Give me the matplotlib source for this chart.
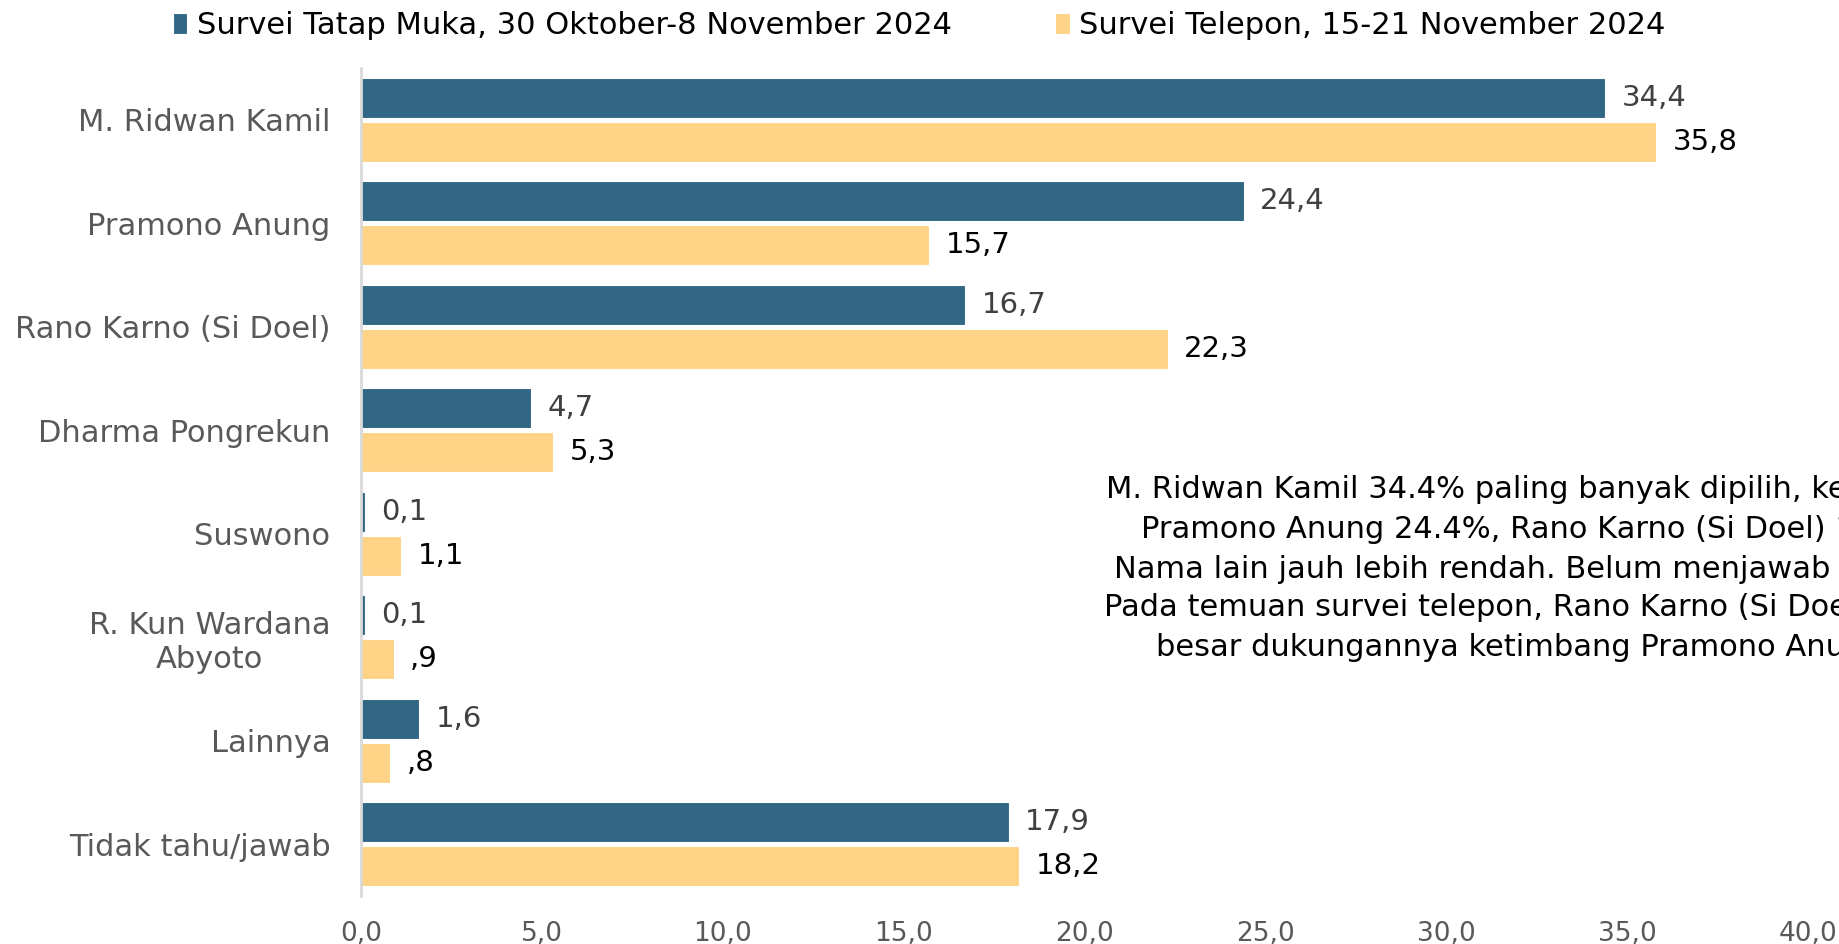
import matplotlib
matplotlib.use("Agg")
import matplotlib.pyplot as plt
import numpy as np

plt.rcParams['font.family'] = ['DejaVu Sans']

categories = ["M. Ridwan Kamil", "Pramono Anung", "Rano Karno (Si Doel)",
              "Dharma Pongrekun", "Suswono", "R. Kun Wardana\nAbyoto",
              "Lainnya", "Tidak tahu/jawab"]
series_names = ["Survei Tatap Muka, 30 Oktober-8 November 2024",
                "Survei Telepon, 15-21 November 2024"]
tatap_muka = [34.4, 24.4, 16.7, 4.7, 0.1, 0.1, 1.6, 17.9]
telepon = [35.8, 15.7, 22.3, 5.3, 1.1, 0.9, 0.8, 18.2]
x_ticks = [0, 5, 10, 15, 20, 25, 30, 35, 40]
note_lines = [
    "M. Ridwan Kamil 34.4% paling banyak dipilih, kemudian",
    "Pramono Anung 24.4%, Rano Karno (Si Doel) 16.7%.",
    "Nama lain jauh lebih rendah. Belum menjawab 17.9%.",
    "Pada temuan survei telepon, Rano Karno (Si Doel) lebih",
    "besar dukungannya ketimbang Pramono Anung.",
]

BLUE = "#316785"
YELLOW = "#FED385"
W, H = 1839, 944

fig = plt.figure(figsize=(W / 100, H / 100), dpi=100)
ax = fig.add_axes([361 / W, 1 - 896 / H, (1808 - 361) / W, (896 - 68) / H])

y = np.arange(len(categories))
h = 0.385
off = 0.2125
b1 = ax.barh(y - off, tatap_muka, height=h, color=BLUE, edgecolor="white",
             linewidth=0.8, label=series_names[0])
b2 = ax.barh(y + off, telepon, height=h, color=YELLOW, edgecolor="white",
             linewidth=0.8, label=series_names[1])

def fmt_keep(v):
    return f"{v:.1f}".replace(".", ",")

def fmt_strip(v):
    s = f"{v:.1f}".replace(".", ",")
    return s[1:] if s.startswith("0,") else s

ax.bar_label(b1, labels=[fmt_keep(v) for v in tatap_muka], padding=12,
             fontsize=21, color="#404040")
ax.bar_label(b2, labels=[fmt_strip(v) for v in telepon], padding=12,
             fontsize=21, color="black")

ax.set_xlim(0, 40)
ax.set_ylim(len(categories) - 0.5, -0.5)
ax.set_xticks(x_ticks)
ax.set_xticklabels([f"{t:.1f}".replace(".", ",") for t in x_ticks])
ax.set_yticks(y)
ax.set_yticklabels(categories, multialignment="center")
ax.tick_params(axis="x", length=0, pad=18, labelsize=19, labelcolor="#595959")
ax.tick_params(axis="y", length=0, pad=22, labelsize=22, labelcolor="#595959")
for s in ["top", "right", "bottom"]:
    ax.spines[s].set_visible(False)
ax.spines["left"].set_color("#D9D9D9")
ax.spines["left"].set_linewidth(2)
ax.set_facecolor("none")

fig.legend(handles=[b1, b2], labels=series_names, loc="center left",
           bbox_to_anchor=(173 / W, 1 - 26 / H), ncol=2, frameon=False,
           fontsize=22, handlelength=0.47, handleheight=0.66,
           handletextpad=0.3, columnspacing=3.4, borderpad=0,
           borderaxespad=0)

note_x = [1106, 1141, 1114, 1104, 1156]
note_y = [490, 530, 570, 608, 648]
for line, nx, ny in zip(note_lines, note_x, note_y):
    fig.text(nx / W, 1 - ny / H, line, ha="left", va="center",
             fontsize=22, color="black")

fig.savefig("out.png", dpi=100)
